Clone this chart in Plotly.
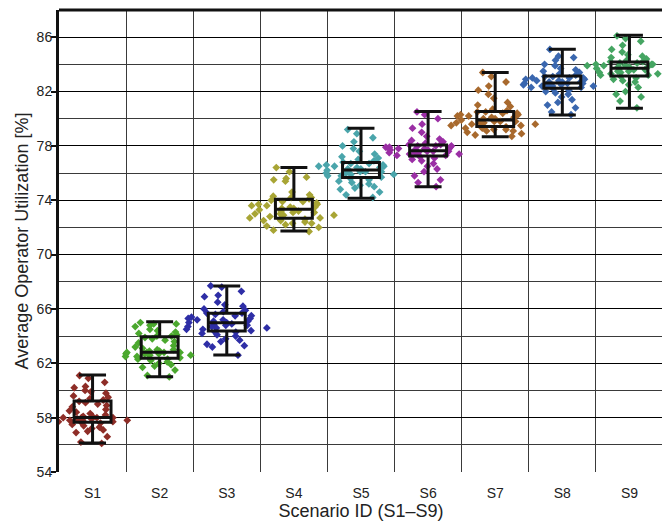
import plotly.graph_objects as go

scenarios = ["S1", "S2", "S3", "S4", "S5", "S6", "S7", "S8", "S9"]

s1 = [56.1, 56.2, 56.6, 56.9, 57.0, 57.1, 57.2, 57.3, 57.4, 57.5, 57.6, 57.6,
      57.7, 57.7, 57.8, 57.8, 57.8, 57.9, 57.9, 57.9, 58.0, 58.0, 58.0, 58.0,
      58.1, 58.1, 58.2, 58.3, 58.4, 58.5, 58.6, 58.8, 58.9, 59.0, 59.1, 59.2,
      59.3, 59.4, 59.5, 59.6, 59.8, 59.9, 60.0, 60.2, 60.3, 60.6, 60.9, 61.1]
s2 = [61.0, 61.1, 61.5, 61.7, 61.8, 61.9, 62.0, 62.1, 62.2, 62.3, 62.3, 62.4,
      62.4, 62.5, 62.5, 62.6, 62.6, 62.7, 62.7, 62.7, 62.8, 62.8, 62.8, 62.8,
      62.9, 62.9, 63.0, 63.0, 63.1, 63.2, 63.3, 63.5, 63.6, 63.7, 63.8, 63.9,
      64.0, 64.0, 64.1, 64.2, 64.3, 64.4, 64.5, 64.7, 64.8, 64.9, 64.9, 65.0]
s3 = [62.6, 63.2, 63.3, 63.4, 63.6, 63.7, 63.8, 64.0, 64.1, 64.2, 64.3, 64.3,
      64.4, 64.5, 64.5, 64.6, 64.6, 64.7, 64.7, 64.8, 64.8, 64.9, 64.9, 65.0,
      65.0, 65.1, 65.1, 65.2, 65.2, 65.3, 65.3, 65.4, 65.5, 65.5, 65.6, 65.7,
      65.7, 65.8, 65.9, 66.0, 66.2, 66.3, 66.5, 66.9, 67.0, 67.3, 67.6, 67.7]
s4 = [71.7, 71.8, 72.0, 72.1, 72.2, 72.3, 72.3, 72.4, 72.5, 72.5, 72.6, 72.6,
      72.7, 72.7, 72.8, 72.9, 72.9, 73.0, 73.0, 73.1, 73.1, 73.2, 73.2, 73.3,
      73.4, 73.4, 73.5, 73.5, 73.6, 73.6, 73.7, 73.7, 73.8, 73.9, 73.9, 74.0,
      74.1, 74.2, 74.2, 74.3, 74.4, 74.6, 75.4, 75.5, 75.6, 75.7, 76.1, 76.4]
s5 = [74.2, 74.4, 74.6, 74.8, 74.9, 75.0, 75.1, 75.2, 75.3, 75.4, 75.5, 75.6,
      75.7, 75.8, 75.8, 75.9, 75.9, 76.0, 76.0, 76.1, 76.1, 76.1, 76.2, 76.2,
      76.3, 76.3, 76.4, 76.4, 76.5, 76.5, 76.5, 76.6, 76.6, 76.7, 76.7, 76.8,
      76.9, 77.0, 77.1, 77.2, 77.4, 77.6, 77.8, 78.0, 78.3, 78.6, 78.9, 79.2]
s6 = [75.0, 75.3, 75.5, 75.8, 76.1, 76.3, 76.5, 76.7, 76.9, 77.0, 77.1, 77.2,
      77.3, 77.3, 77.4, 77.4, 77.5, 77.5, 77.5, 77.6, 77.6, 77.6, 77.6, 77.7,
      77.7, 77.7, 77.8, 77.8, 77.8, 77.9, 77.9, 77.9, 78.0, 78.0, 78.0, 78.1,
      78.1, 78.2, 78.3, 78.4, 78.5, 78.7, 79.0, 79.3, 79.6, 80.0, 80.3, 80.5]
s7 = [78.7, 78.8, 78.9, 79.0, 79.1, 79.1, 79.2, 79.2, 79.3, 79.3, 79.4, 79.4,
      79.5, 79.5, 79.6, 79.6, 79.7, 79.7, 79.7, 79.8, 79.8, 79.8, 79.9, 79.9,
      80.0, 80.0, 80.1, 80.1, 80.2, 80.2, 80.3, 80.3, 80.4, 80.4, 80.5, 80.5,
      80.6, 80.7, 80.9, 81.0, 81.2, 81.5, 81.8, 82.1, 82.4, 82.7, 83.1, 83.4]
s8 = [80.3, 80.5, 80.8, 81.0, 81.2, 81.4, 81.6, 81.8, 81.9, 82.0, 82.1, 82.2,
      82.3, 82.3, 82.4, 82.4, 82.4, 82.5, 82.5, 82.5, 82.6, 82.6, 82.6, 82.6,
      82.7, 82.7, 82.7, 82.8, 82.8, 82.9, 82.9, 83.0, 83.0, 83.0, 83.1, 83.1,
      83.2, 83.3, 83.4, 83.5, 83.6, 83.7, 83.9, 84.0, 84.3, 84.5, 84.6, 85.1]
s9 = [80.8, 81.3, 81.6, 81.8, 82.0, 82.3, 82.5, 82.7, 82.8, 82.9, 83.0, 83.1,
      83.2, 83.2, 83.3, 83.3, 83.4, 83.4, 83.5, 83.5, 83.6, 83.6, 83.7, 83.7,
      83.8, 83.8, 83.8, 83.9, 83.9, 83.9, 84.0, 84.0, 84.0, 84.1, 84.1, 84.2,
      84.2, 84.3, 84.4, 84.5, 84.6, 84.7, 84.9, 85.1, 85.4, 85.7, 85.9, 86.1]
samples = [s1, s2, s3, s4, s5, s6, s7, s8, s9]

# box statistics
lower = [56.13, 61.01, 62.61, 71.74, 74.15, 75.00, 78.68, 80.28, 80.77]
q1 = [57.67, 62.37, 64.38, 72.67, 75.67, 77.26, 79.42, 82.25, 83.15]
median = [58.02, 62.81, 64.99, 73.34, 76.23, 77.65, 79.91, 82.62, 83.72]
q3 = [59.22, 63.96, 65.68, 74.07, 76.77, 78.07, 80.53, 83.15, 84.18]
upper = [61.14, 65.06, 67.69, 76.40, 79.30, 80.53, 83.40, 85.12, 86.15]

y_labels = [54, 58, 62, 66, 70, 74, 78, 82, 86]
y_major_grid = [58, 62, 66, 70, 74, 78, 82, 86]
y_minor_grid = [56, 60, 64, 68, 72, 76, 80, 84, 88]

colors = ["#8E2D27", "#4BA82E", "#2E2EA6", "#A8A535", "#4AA5AB",
          "#9B2FA5", "#A8692D", "#3A67AF", "#45A562"]

fig = go.Figure()

# carrier for the grid-only overlay axis
fig.add_trace(go.Scatter(x=scenarios, y=median, yaxis="y2", mode="markers",
                         marker=dict(opacity=0), showlegend=False,
                         hoverinfo="skip"))

for name, vals, col in zip(scenarios, samples, colors):
    fig.add_trace(go.Box(
        x=[name] * len(vals), y=vals, name=name,
        boxpoints="all", jitter=1, pointpos=0, width=1.35,
        line=dict(width=0), fillcolor="rgba(0,0,0,0)",
        marker=dict(symbol="diamond", size=6, color=col),
        showlegend=False, hoverinfo="y",
    ))

fig.add_trace(go.Box(
    x=scenarios, q1=q1, median=median, q3=q3,
    lowerfence=lower, upperfence=upper,
    boxpoints=False, width=0.55, whiskerwidth=0.73,
    line=dict(color="#111111", width=3), fillcolor="rgba(0,0,0,0)",
    showlegend=False,
))

font_family = "Liberation Sans, Arial, sans-serif"
fig.update_layout(
    width=662, height=516,
    margin=dict(l=51, r=7, t=2, b=52),
    paper_bgcolor="white", plot_bgcolor="white",
    font=dict(family=font_family, color="#222222", size=14),
    boxmode="overlay",
    xaxis=dict(
        type="category", categoryorder="array", categoryarray=scenarios,
        tickson="boundaries", ticks="", showgrid=True,
        gridcolor="#3a3a3a", gridwidth=1.3,
        showline=False, zeroline=False, automargin=False,
        tickfont=dict(size=14, color="#222222"), ticklabelstandoff=11,
        title=dict(text="Scenario ID (S1–S9)", font=dict(size=18, color="#222222"),
                   standoff=2),
        range=[-0.5, 8.5],
    ),
    yaxis=dict(
        range=[54, 88], tickmode="array", tickvals=y_labels,
        showgrid=False,
        ticks="outside", ticklen=5, tickwidth=1.5, tickcolor="#111111",
        showline=True, linewidth=3, linecolor="#111111", mirror=True,
        zeroline=False, automargin=False,
        tickfont=dict(size=14, color="#222222"), ticklabelstandoff=-4,
        title=dict(text="Average Operator Utilization [%]",
                   font=dict(size=18, color="#222222"), standoff=4),
    ),
    yaxis2=dict(
        overlaying="y", matches="y", range=[54, 88],
        tickmode="array", tickvals=y_major_grid, showticklabels=False, ticks="",
        showgrid=True, gridcolor="#000000", gridwidth=1.2,
        minor=dict(tickmode="array", tickvals=y_minor_grid, showgrid=True,
                   gridcolor="#3a3a3a", gridwidth=1.3, ticks=""),
        showline=False, zeroline=False, automargin=False,
    ),
    shapes=[dict(type="line", xref="paper", yref="paper", x0=0, x1=1, y0=1, y1=1,
                 line=dict(color="#111111", width=3))],
)

fig.write_html("out.html")
